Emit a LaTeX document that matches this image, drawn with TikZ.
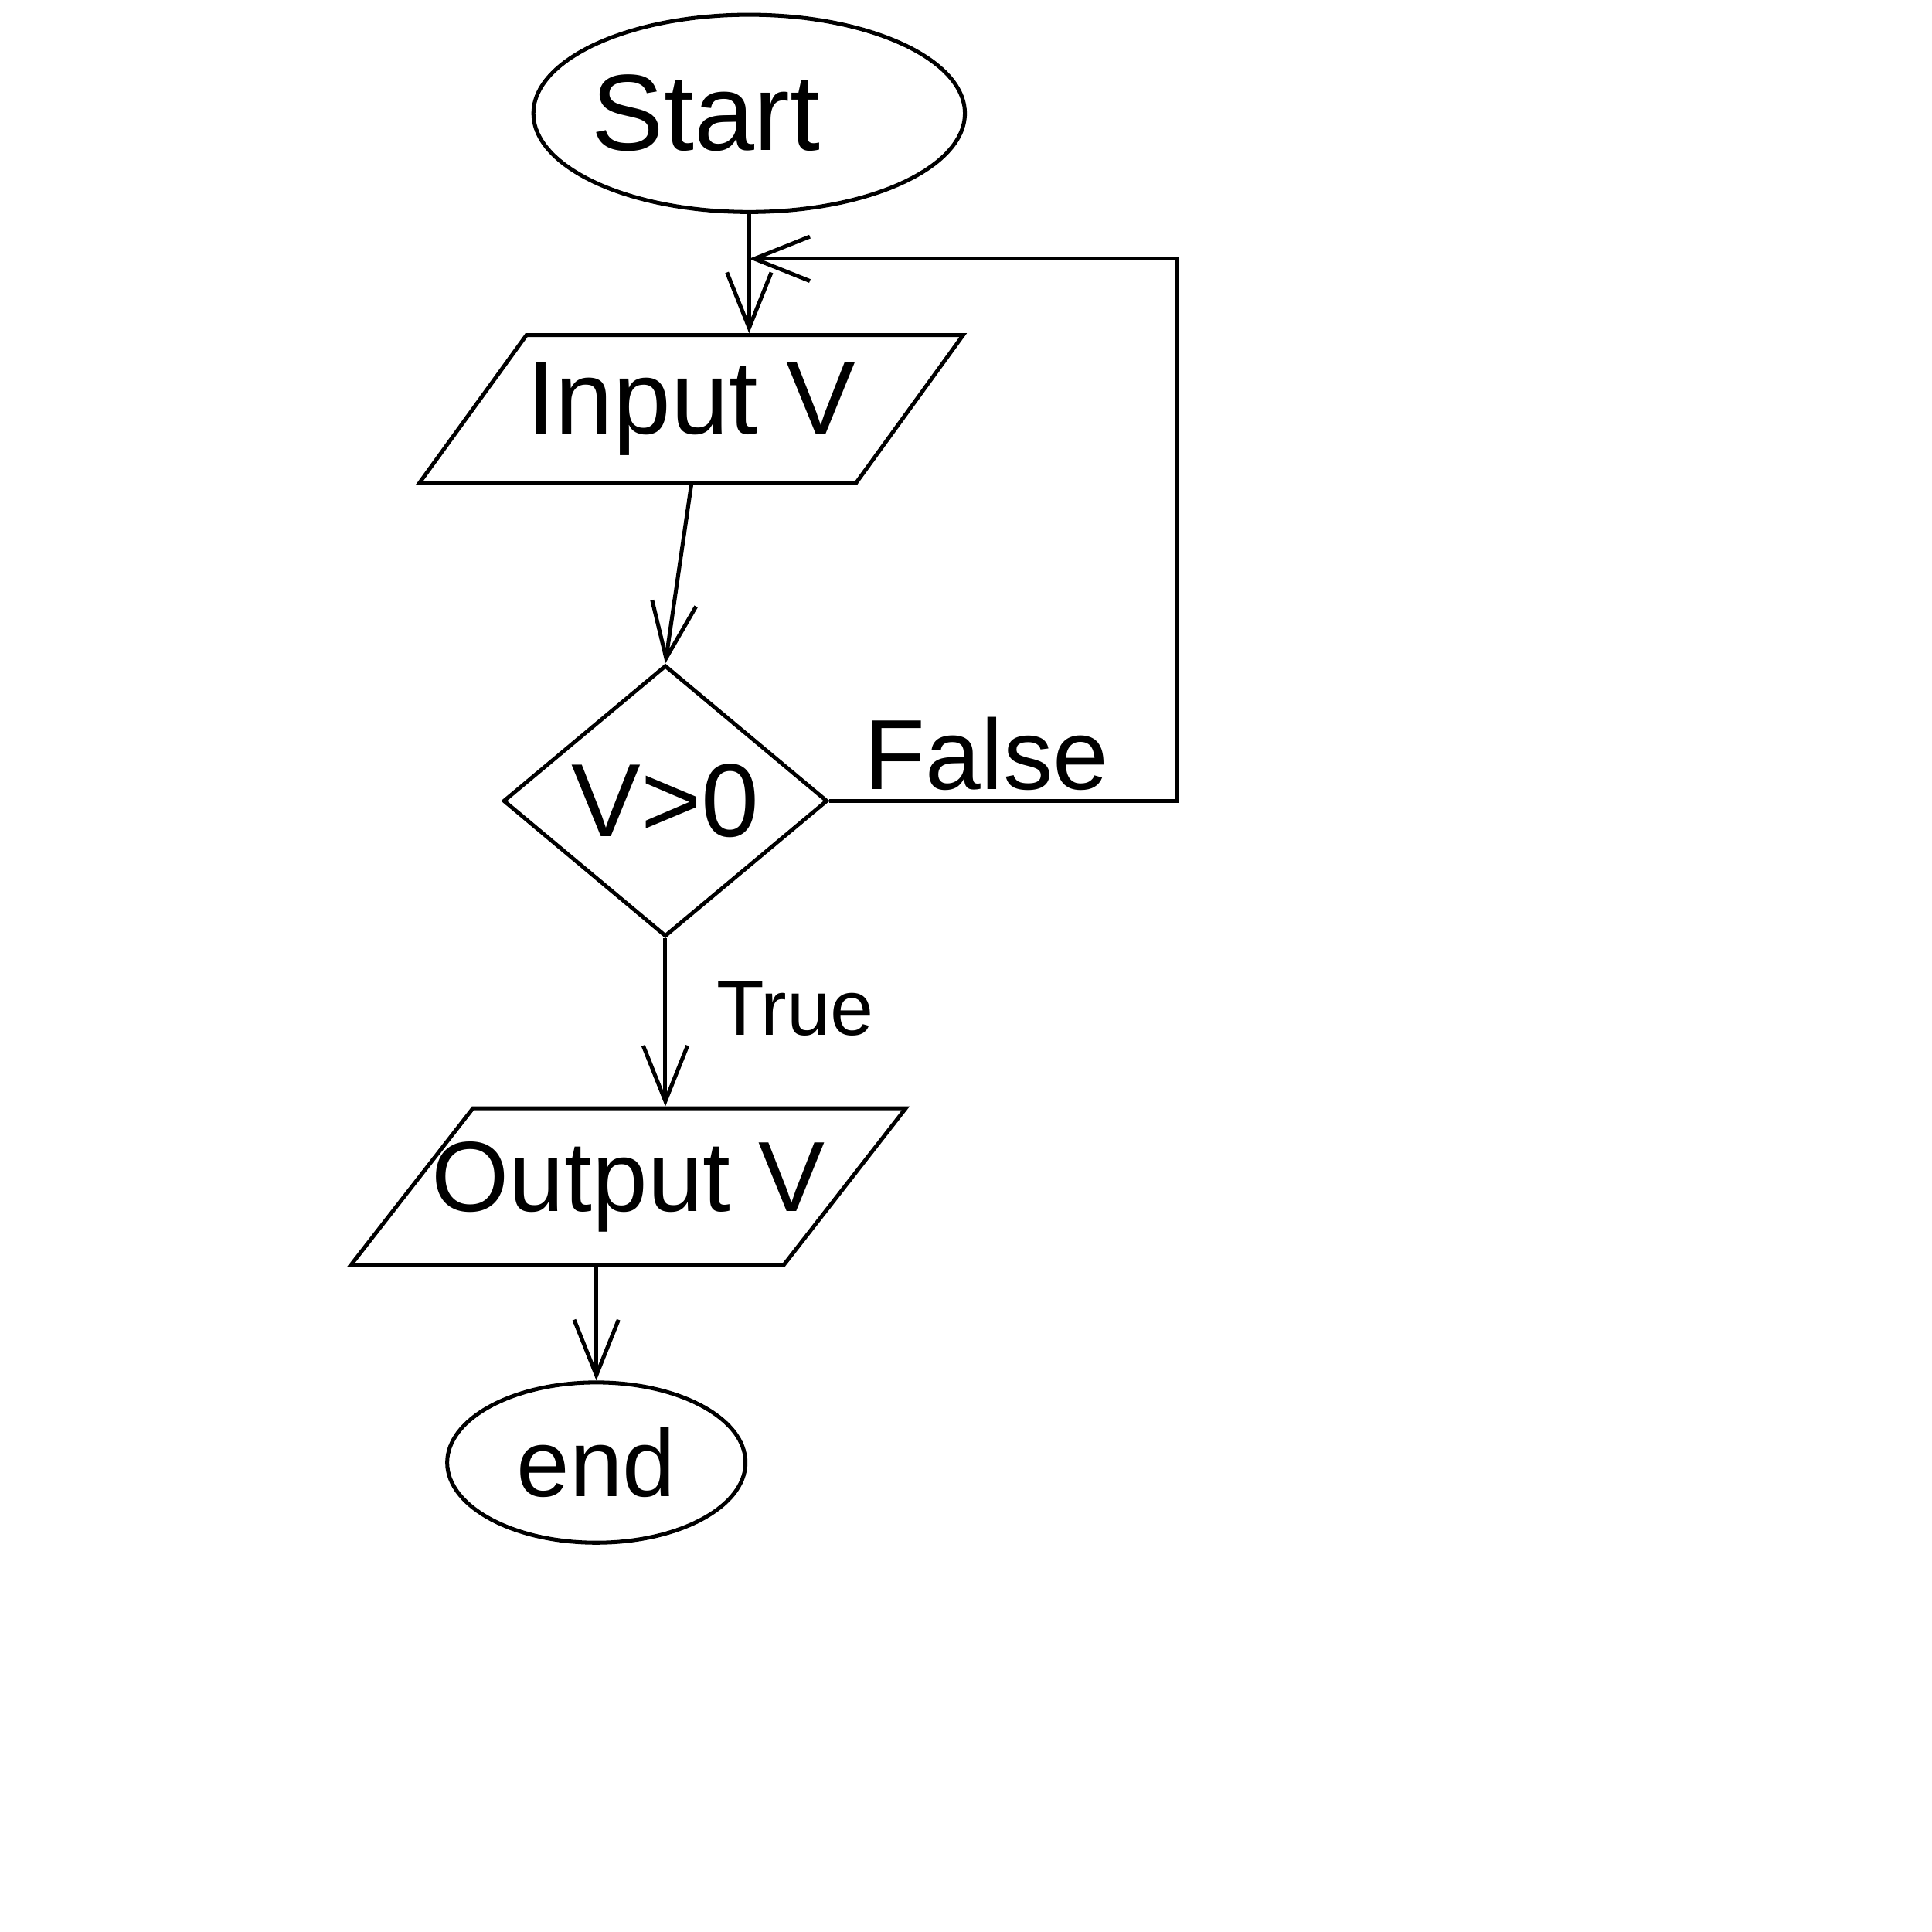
\documentclass[tikz,border=0pt]{standalone}
\usepackage{fontspec}
\setmainfont{Liberation Sans}
\usetikzlibrary{shapes.geometric,arrows.meta}
\begin{document}
\begin{tikzpicture}[x=0.01cm,y=-0.01cm,line width=0.9pt,
  term/.style={draw, ellipse, inner sep=0pt},
  io/.style={draw, trapezium, trapezium left angle=#1, trapezium right angle=180-#1,
    trapezium stretches=true, inner sep=0pt},
  decision/.style={draw, diamond, shape aspect=1.2, inner sep=0pt},
  flow/.style={-{Straight Barb[length=4.5mm,width=3.6mm]}},
  big/.style={font=\fontsize{24}{29}\selectfont},
]
% page
\fill[white] (0,0) rectangle (1568,1568);

% blocks
\node[term, font=\fontsize{25}{30}\selectfont, inner xsep=-0.3cm, minimum width=3.5cm, minimum height=1.6cm] (start) at (608,92) {Start\kern0.7cm};
\node[io=41, big, minimum width=4.33cm, minimum height=1.2cm] (input) at (561,332) {Input V};
\node[decision, big, minimum width=2.63cm, minimum height=2.2cm] (dec) at (540,650) {V>0};
\node[io=38, font=\fontsize{23}{28}\selectfont, inner xsep=-0.4cm, minimum width=4.5cm, minimum height=1.27cm] (out) at (510,963) {Output V};
\node[term, font=\fontsize{22}{26}\selectfont, minimum width=2.42cm, minimum height=1.3cm] (end) at (484,1187) {end};

% helper points for the feedback loop
\coordinate (level) at (0,210);
\coordinate (merge) at (start.south |- level);
\coordinate (loopx) at (955,0);

% connectors
\draw[flow] (start.south) -- (start.south |- input.north);
\draw[flow] (input.south) -- (dec.north);
\draw[flow] (dec.south) -- node[pos=0.42, right=8pt, font=\fontsize{18}{22}\selectfont] {True} (dec.south |- out.north);
\draw[flow] (end.north |- out.south) -- (end.north);
\draw[flow] (dec.east) -- (dec.east -| loopx) -- (merge -| loopx) -- (merge);
\node[anchor=south west, font=\fontsize{23}{28}\selectfont, inner sep=2pt] (false) at ([xshift=0.2cm]dec.east) {False};
\end{tikzpicture}
\end{document}
